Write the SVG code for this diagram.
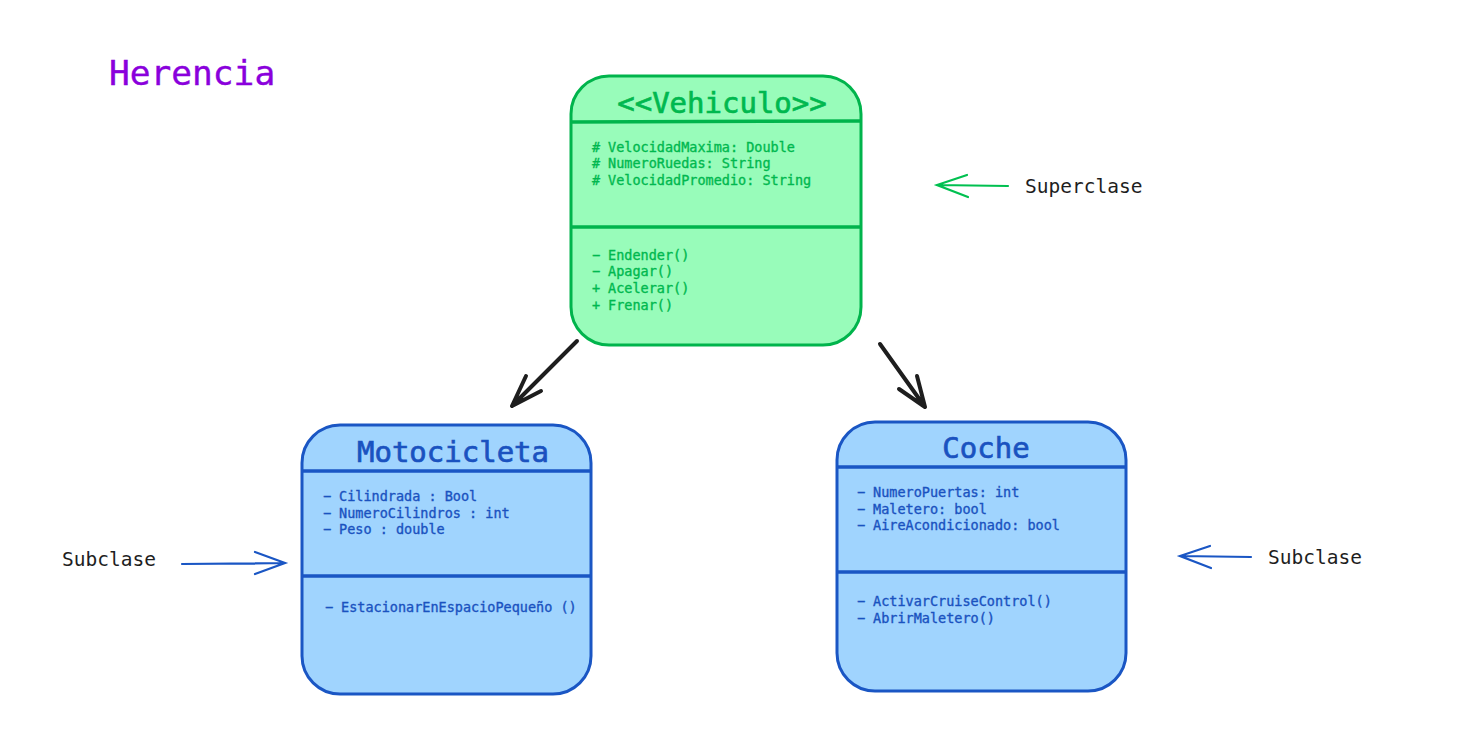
<svg xmlns="http://www.w3.org/2000/svg" width="1457" height="749" viewBox="0 0 1457 749">
<style>
text{font-family:"DejaVu Sans Mono","Liberation Mono",monospace}
.g{fill:#00b84f;stroke:#00b84f}
.b{fill:#1a52c0;stroke:#1a52c0}
.k{fill:#1e1e1e}
.mem{font-size:13.5px;stroke-width:0.35}
.ttl{font-size:29px;stroke-width:0.7}
.lbl{font-size:19.5px}
.gbox{fill:#98fcba;stroke:#00b44c;stroke-width:3}
.bbox{fill:#a0d4fe;stroke:#1a56c4;stroke-width:3}
.gl{stroke:#00b44c;stroke-width:3.5;fill:none}
.bl{stroke:#1a56c4;stroke-width:3.5;fill:none}
.ak{stroke:#1e1e1e;stroke-width:4;fill:none;stroke-linecap:round;stroke-linejoin:round}
.ag{stroke:#00c050;stroke-width:2.2;fill:none;stroke-linecap:round}
.ab{stroke:#1a56c4;stroke-width:2.2;fill:none;stroke-linecap:round}
</style>
<rect width="1457" height="749" fill="#ffffff"/>
<g id="title">
<text x="109" y="85" font-size="34.5" fill="#8a00dc" stroke="#8a00dc" stroke-width="0.4">Herencia</text>
</g>
<g id="vehiculo">
<rect class="gbox" x="571" y="76" width="290" height="269" rx="38"/>
<line class="gl" x1="572" y1="122" x2="861" y2="121"/>
<line class="gl" x1="570" y1="227" x2="861" y2="227"/>
<text class="g ttl" x="722" y="113" text-anchor="middle">&lt;&lt;Vehiculo&gt;&gt;</text>
<text class="g mem" x="592" y="152"><tspan x="592">#</tspan><tspan x="608">VelocidadMaxima: Double</tspan></text>
<text class="g mem" x="592" y="168"><tspan x="592">#</tspan><tspan x="608">NumeroRuedas: String</tspan></text>
<text class="g mem" x="592" y="185"><tspan x="592">#</tspan><tspan x="608">VelocidadPromedio: String</tspan></text>
<text class="g mem" x="592" y="260"><tspan x="592">−</tspan><tspan x="608">Endender()</tspan></text>
<text class="g mem" x="592" y="276"><tspan x="592">−</tspan><tspan x="608">Apagar()</tspan></text>
<text class="g mem" x="592" y="293"><tspan x="592">+</tspan><tspan x="608">Acelerar()</tspan></text>
<text class="g mem" x="592" y="310"><tspan x="592">+</tspan><tspan x="608">Frenar()</tspan></text>
</g>
<g id="motocicleta">
<rect class="bbox" x="302" y="425" width="289" height="269" rx="38"/>
<line class="bl" x1="303" y1="471" x2="592" y2="471"/>
<line class="bl" x1="303" y1="576" x2="590" y2="576"/>
<text class="b ttl" x="453" y="462" text-anchor="middle">Motocicleta</text>
<text class="b mem" x="323" y="501"><tspan x="323">−</tspan><tspan x="339">Cilindrada : Bool</tspan></text>
<text class="b mem" x="323" y="518"><tspan x="323">−</tspan><tspan x="339">NumeroCilindros : int</tspan></text>
<text class="b mem" x="323" y="534"><tspan x="323">−</tspan><tspan x="339">Peso : double</tspan></text>
<text class="b mem" x="325" y="612"><tspan x="325">−</tspan><tspan x="341">EstacionarEnEspacioPequeño ()</tspan></text>
</g>
<g id="coche">
<rect class="bbox" x="837" y="422" width="289" height="269" rx="38"/>
<line class="bl" x1="838" y1="467" x2="1126" y2="467"/>
<line class="bl" x1="838" y1="572" x2="1125" y2="572"/>
<text class="b ttl" x="986" y="458" text-anchor="middle">Coche</text>
<text class="b mem" x="857" y="497"><tspan x="857">−</tspan><tspan x="873">NumeroPuertas: int</tspan></text>
<text class="b mem" x="857" y="514"><tspan x="857">−</tspan><tspan x="873">Maletero: bool</tspan></text>
<text class="b mem" x="857" y="530"><tspan x="857">−</tspan><tspan x="873">AireAcondicionado: bool</tspan></text>
<text class="b mem" x="857" y="606"><tspan x="857">−</tspan><tspan x="873">ActivarCruiseControl()</tspan></text>
<text class="b mem" x="857" y="623"><tspan x="857">−</tspan><tspan x="873">AbrirMaletero()</tspan></text>
</g>
<g id="labels">
<text class="k lbl" x="1025" y="193">Superclase</text>
<text class="k lbl" x="62" y="566">Subclase</text>
<text class="k lbl" x="1268" y="564">Subclase</text>
</g>
<g id="connectors">
<path class="ak" d="M577 341 L512 406 M526 376 L512 406 L541 391"/>
<path class="ak" d="M880 344 L925 407 M917 376 L925 407 L899 389"/>
<path class="ag" d="M1008 186 L937 185 M967 175 L937 185 L968 197"/>
<path class="ab" d="M182 564 L285 563 M255 552 L285 563 L255 574"/>
<path class="ab" d="M1251 557 L1180 556 M1210 546 L1180 556 L1211 568"/>
</g>
</svg>
